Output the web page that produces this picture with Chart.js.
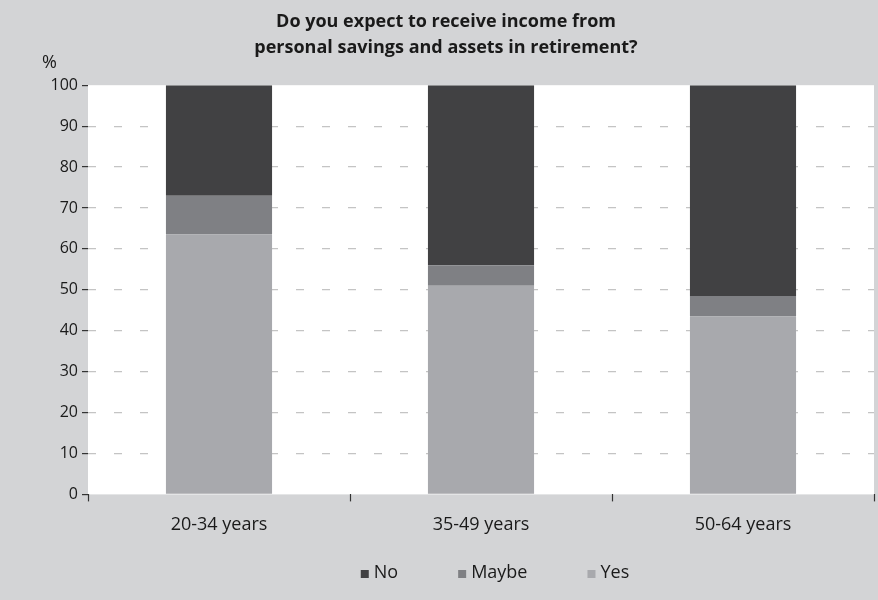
<!DOCTYPE html>
<html>
<head>
<meta charset="utf-8">
<script src="https://cdn.jsdelivr.net/npm/chart.js@4.4.0/dist/chart.umd.min.js"></script>
<style>
  html, body { margin: 0; padding: 0; background: #d3d4d6; }
  #wrap { width: 878px; height: 600px; }
</style>
</head>
<body>
<div id="wrap"><canvas id="chart" width="878" height="600"></canvas></div>
<script>
const ageGroups = ['20-34 years', '35-49 years', '50-64 years'];
const yesValues = [63.5, 51, 43.5];
const maybeValues = [9.5, 5, 5];
const noValues = [27, 44, 51.5];
const titleLines = ['Do you expect to receive income from', 'personal savings and assets in retirement?'];

const FONT = "'Open Sans', 'DejaVu Sans', sans-serif";
const LEGEND_CENTER_X = 495;
const LEGEND_Y = 573;

// white plot area behind the bars
const plotBackground = {
    id: 'plotBackground',
    beforeDraw(chart) {
        const { ctx, chartArea } = chart;
        ctx.save();
        ctx.fillStyle = '#ffffff';
        ctx.fillRect(chartArea.left, chartArea.top, chartArea.right - chartArea.left, chartArea.bottom - chartArea.top);
        ctx.restore();
    }
};

// "%" unit above the y labels and a legend with wide gaps, top series first
const extras = {
    id: 'extras',
    afterDraw(chart) {
        const { ctx, chartArea } = chart;
        ctx.save();
        ctx.fillStyle = '#1a1a1a';
        ctx.font = '18px ' + FONT;
        ctx.textAlign = 'left';
        ctx.textBaseline = 'middle';
        ctx.fillText('%', chartArea.left - 46, chartArea.top - 22);

        const items = chart.data.datasets.slice().reverse();
        const box = 8, boxGap = 5, itemGap = 60;
        const widths = items.map(d => box + boxGap + ctx.measureText(d.label).width);
        const total = widths.reduce((a, b) => a + b, 0) + itemGap * (items.length - 1);
        let x = LEGEND_CENTER_X - total / 2;
        items.forEach((d, i) => {
            ctx.fillStyle = d.backgroundColor;
            ctx.fillRect(x, LEGEND_Y - box / 2 + 1, box, box);
            ctx.fillStyle = '#1a1a1a';
            ctx.fillText(d.label, x + box + boxGap, LEGEND_Y);
            x += widths[i] + itemGap;
        });
        ctx.restore();
    }
};

const ctx = document.getElementById('chart').getContext('2d');
new Chart(ctx, {
    type: 'bar',
    data: {
        labels: ageGroups,
        datasets: [
            { label: 'Yes', data: yesValues, backgroundColor: '#a8a9ad' },
            { label: 'Maybe', data: maybeValues, backgroundColor: '#7f8084' },
            { label: 'No', data: noValues, backgroundColor: '#414143' }
        ]
    },
    options: {
        responsive: false,
        animation: false,
        layout: { padding: { left: 18, right: 4, top: 0, bottom: 51 } },
        datasets: {
            bar: { categoryPercentage: 1, barPercentage: 0.405 }
        },
        plugins: {
            title: {
                display: true,
                text: titleLines,
                color: '#1a1a1a',
                font: { family: FONT, size: 18, weight: 'bold', lineHeight: 1.45 },
                padding: { top: 9, bottom: 24 }
            },
            legend: { display: false },
            tooltip: { enabled: false }
        },
        scales: {
            x: {
                stacked: true,
                border: { display: false },
                grid: {
                    offset: true,
                    drawOnChartArea: false,
                    drawTicks: true,
                    tickLength: 7,
                    tickColor: '#333333',
                    tickWidth: 1.2
                },
                ticks: {
                    color: '#1a1a1a',
                    font: { family: FONT, size: 18 },
                    padding: 13
                }
            },
            y: {
                stacked: true,
                min: 0,
                max: 100,
                afterFit(scale) { scale.width = 70; },
                border: { display: false, dash: [8, 18] },
                grid: {
                    color: (c) => (c.tick && (c.tick.value === 0 || c.tick.value === 100)) ? 'rgba(0,0,0,0)' : '#c4c4c4',
                    lineWidth: 1.2,
                    tickLength: 6,
                    tickColor: '#333333',
                    tickWidth: 1.2,
                    tickBorderDash: []
                },
                ticks: {
                    stepSize: 10,
                    color: '#1a1a1a',
                    font: { family: FONT, size: 16 },
                    padding: 4
                }
            }
        }
    },
    plugins: [plotBackground, extras]
});
</script>
</body>
</html>
